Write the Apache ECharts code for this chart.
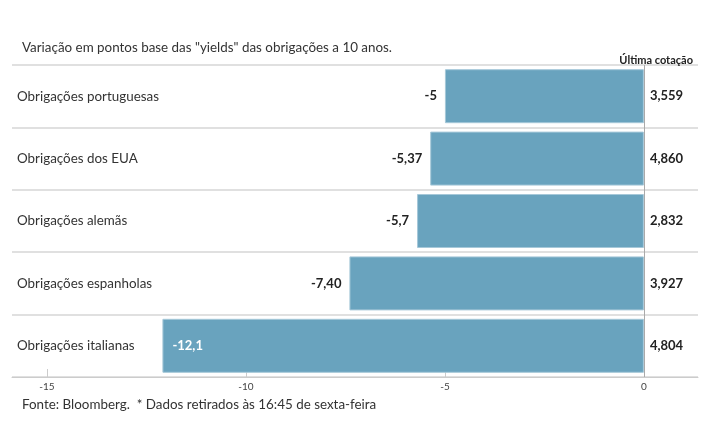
<!DOCTYPE html>
<html>
<head>
<meta charset="utf-8">
<script src="https://cdn.jsdelivr.net/npm/echarts@6/dist/echarts.min.js"></script>
<style>
  html, body { margin: 0; padding: 0; background: #fff; }
  #chart { width: 715px; height: 445px; }
</style>
</head>
<body>
<div id="chart"></div>
<script>
  // dados
  const categorias = ['Obrigações portuguesas', 'Obrigações dos EUA', 'Obrigações alemãs', 'Obrigações espanholas', 'Obrigações italianas']
  const variacao = [-5, -5.37, -5.7, -7.40, -12.1]
  const variacaoTxt = ['-5', '-5,37', '-5,7', '-7,40', '-12,1']
  const cotacao = ['3,559', '4,860', '2,832', '3,927', '4,804']
  const ticks = [-15, -10, -5, 0]

  const fonte = 'Lato, "Noto Sans", sans-serif'
  const chart = echarts.init(document.getElementById('chart'))

  const options = {
    animation: false,
    textStyle: { fontFamily: fonte },
    title: [
      {
        text: 'Variação em pontos base das "yields" das obrigações a 10 anos.',
        left: 17, top: 36,
        textStyle: { fontSize: 13.4, fontWeight: 'normal', color: '#333', fontFamily: fonte }
      },
      {
        text: 'Última cotação',
        right: 17, top: 50,
        textStyle: { fontSize: 11, fontWeight: 'bold', color: '#222', fontFamily: fonte }
      },
      {
        text: 'Fonte: Bloomberg.  * Dados retirados às 16:45 de sexta-feira',
        left: 17, top: 393,
        textStyle: { fontSize: 13.4, fontWeight: 'normal', color: '#333', fontFamily: fonte }
      }
    ],
    grid: { left: 12, right: 17, top: 65, bottom: 68 },
    xAxis: {
      type: 'value',
      min: -15.88,
      max: 1.36,
      axisLine: { show: true, lineStyle: { color: '#ccc', width: 1 } },
      axisTick: { show: true, inside: true, length: 8, customValues: ticks, lineStyle: { color: '#ccc' } },
      axisLabel: { customValues: ticks, fontSize: 10, color: '#444', margin: 5 },
      splitLine: { show: false }
    },
    yAxis: {
      type: 'category',
      inverse: true,
      data: categorias,
      axisLine: { show: false },
      axisTick: { show: false },
      axisLabel: { inside: true, margin: 5, fontSize: 13.4, color: '#333', align: 'left' },
      splitLine: { show: true, lineStyle: { color: '#e0e0e0', width: 2 } }
    },
    series: [
      {
        type: 'bar',
        barWidth: 54,
        data: variacao.map((v, i) => ({
          value: v,
          label: i === 4
            ? { position: 'insideLeft', color: '#fff', distance: 10 }
            : { position: 'left', color: '#222', distance: 8 }
        })),
        itemStyle: { color: '#69a3be', borderColor: '#a6c8d9', borderWidth: 1 },
        label: {
          show: true,
          fontSize: 13,
          fontWeight: 'bold',
          formatter: p => variacaoTxt[p.dataIndex]
        },
        markLine: {
          silent: true,
          symbol: 'none',
          label: { show: false },
          lineStyle: { color: '#aaa', width: 1, type: 'solid' },
          data: [{ xAxis: 0 }]
        },
        z: 3
      },
      {
        // rótulos da última cotação
        type: 'bar',
        barWidth: 54,
        barGap: '-100%',
        data: variacao.map(() => 0),
        itemStyle: { color: 'transparent' },
        label: {
          show: true,
          position: 'right',
          distance: 6,
          fontSize: 13,
          fontWeight: 'bold',
          color: '#222',
          formatter: p => cotacao[p.dataIndex]
        },
        z: 4
      }
    ]
  }

  chart.setOption(options, true)
</script>
</body>
</html>
